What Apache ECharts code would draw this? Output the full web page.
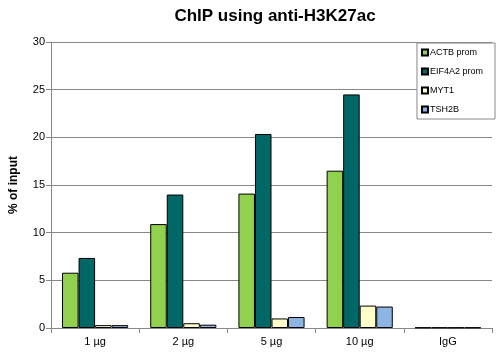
<!DOCTYPE html>
<html>
<head>
<meta charset="utf-8">
<script src="https://cdn.jsdelivr.net/npm/echarts@6/dist/echarts.min.js"></script>
<style>
  html, body { margin: 0; padding: 0; background: #fff; }
  #chart { width: 500px; height: 354px; }
</style>
</head>
<body>
<div id="chart"></div>
<script>
var categories = ['1 µg', '2 µg', '5 µg', '10 µg', 'IgG'];
var actb = [5.8, 10.9, 14.1, 16.5, 0.05];
var eif4a2 = [7.35, 14.0, 20.35, 24.5, 0.05];
var myt1 = [0.3, 0.5, 1.0, 2.35, 0.05];
var tsh2b = [0.3, 0.35, 1.15, 2.25, 0.05];
var seriesNames = ['ACTB prom', 'EIF4A2 prom', 'MYT1', 'TSH2B'];
var colors = ['#92d050', '#006666', '#ffffcc', '#8db4e2'];

var chart = echarts.init(document.getElementById('chart'));
var allData = [actb, eif4a2, myt1, tsh2b];

var option = {
  animation: false,
  title: {
    text: 'ChIP using anti-H3K27ac',
    left: 270,
    textAlign: 'center',
    top: 3,
    textStyle: { fontFamily: 'Liberation Sans, Arial', fontSize: 17, fontWeight: 'bold', color: '#000' }
  },
  legend: {
    orient: 'vertical',
    right: 5,
    top: 43,
    width: 70,
    backgroundColor: '#fff',
    borderColor: '#888',
    borderWidth: 1,
    borderRadius: 0,
    padding: [5, 12, 5, 4],
    itemWidth: 6,
    itemHeight: 6,
    itemGap: 10,
    icon: 'rect',
    textStyle: { fontFamily: 'Liberation Sans, Arial', fontSize: 9, color: '#000', padding: [0, 0, 0, -3] },
    data: seriesNames
  },
  grid: { left: 48, right: 8, top: 42, bottom: 26 },
  xAxis: {
    type: 'category',
    data: categories,
    axisLine: { lineStyle: { color: '#888' } },
    axisTick: { show: true, length: 5, lineStyle: { color: '#888' } },
    axisLabel: { fontFamily: 'Liberation Sans, Arial', fontSize: 11, color: '#000', margin: 8 }
  },
  yAxis: {
    type: 'value',
    min: 0,
    max: 30,
    interval: 5,
    name: '% of input',
    nameLocation: 'middle',
    nameGap: 31,
    nameTextStyle: { fontFamily: 'Liberation Sans, Arial', fontSize: 12, fontWeight: 'bold', color: '#000' },
    axisLine: { show: true, lineStyle: { color: '#888' } },
    axisTick: { show: true, length: 5, lineStyle: { color: '#888' } },
    splitLine: { lineStyle: { color: '#888' } },
    axisLabel: { fontFamily: 'Liberation Sans, Arial', fontSize: 11, color: '#000', margin: 6 }
  },
  series: seriesNames.map(function (name, i) {
    return {
      name: name,
      type: 'bar',
      data: allData[i],
      barGap: '0%',
      barCategoryGap: '25%',
      itemStyle: { color: colors[i], borderColor: '#000', borderWidth: 1 }
    };
  })
};
chart.setOption(option);
</script>
</body>
</html>
